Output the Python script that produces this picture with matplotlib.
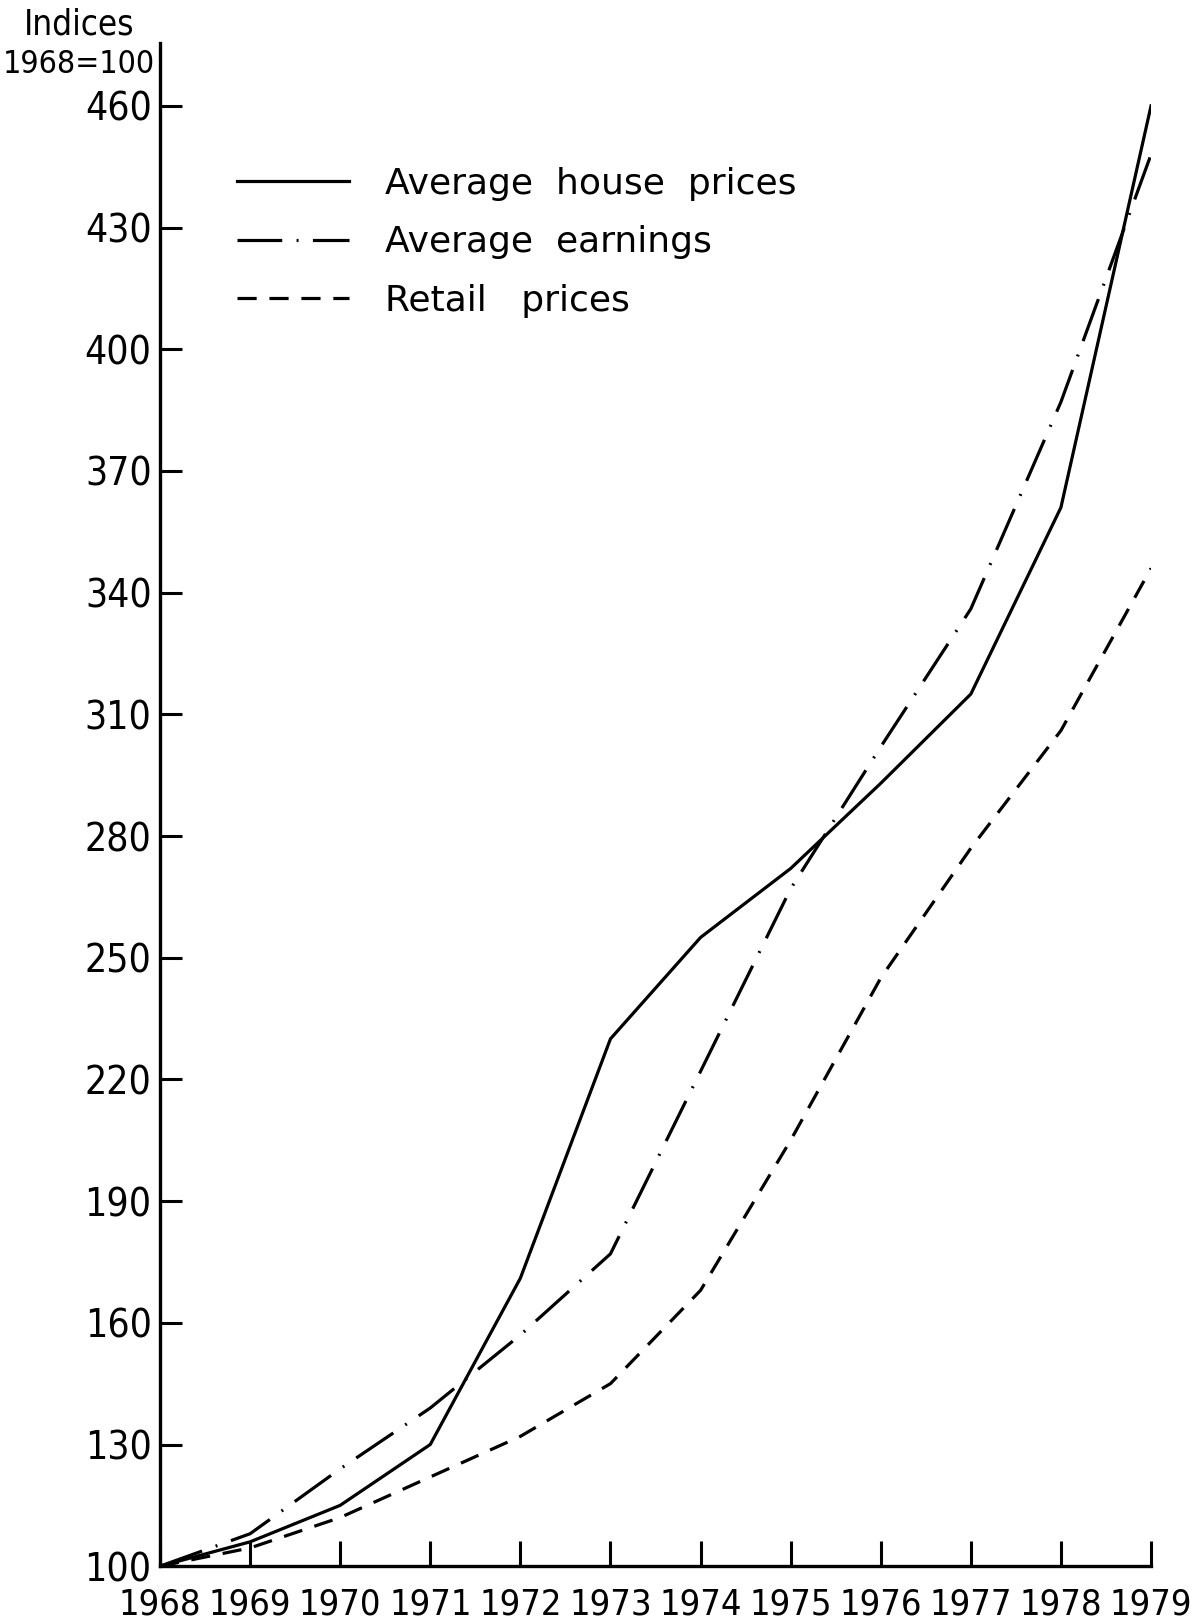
import matplotlib.pyplot as plt

years = [1968, 1969, 1970, 1971, 1972, 1973, 1974, 1975, 1976, 1977, 1978, 1979]
house_prices = [100, 106, 115, 130, 171, 230, 255, 272, 293, 315, 361, 460]
earnings = [100, 108, 124, 139, 157, 177, 222, 267, 302, 336, 387, 448]
retail_prices = [100, 104.5, 112, 122, 132, 145, 168, 205, 245, 277, 306, 346]
y_ticks = [100, 130, 160, 190, 220, 250, 280, 310, 340, 370, 400, 430, 460]

plt.rcParams['font.family'] = ['DejaVu Sans']
plt.rcParams['font.stretch'] = 'condensed'

fig = plt.figure(figsize=(11.94, 16.23), dpi=100)
ax = fig.add_axes([0.134, 0.035, 0.830, 0.9385])

lw = 2.3
ax.plot(years, house_prices, color='black', lw=lw, label='Average  house  prices')
ax.plot(years, earnings, color='black', lw=lw, dashes=(14, 4.5, 0.6, 4.5), label='Average  earnings')
ax.plot(years, retail_prices, color='black', lw=lw, dashes=(6, 4), label='Retail   prices')

ax.set_xlim(1968, 1979)
ax.set_ylim(100, 475.5)
ax.set_xticks(years)
ax.set_yticks(y_ticks)
ax.tick_params(direction='in', width=2.2)
ax.tick_params(axis='x', length=18, pad=15, labelsize=26)
ax.tick_params(axis='y', length=16, pad=6, labelsize=28)
for s in ['top', 'right']:
    ax.spines[s].set_visible(False)
for s in ['left', 'bottom']:
    ax.spines[s].set_linewidth(2.4)
ax.spines['bottom'].set_bounds(1968, 1979)

fig.text(0.066, 0.985, 'Indices', fontsize=25, ha='center', va='center')
fig.text(0.066, 0.960, '1968=100', fontsize=23, ha='center', va='center')

leg = ax.legend(loc='upper left', bbox_to_anchor=(0.045, 0.94), frameon=False,
                prop={'size': 26, 'stretch': 'normal'},
                handlelength=3.1, handletextpad=1.0, labelspacing=0.68)

fig.savefig('out.png', dpi=100)
